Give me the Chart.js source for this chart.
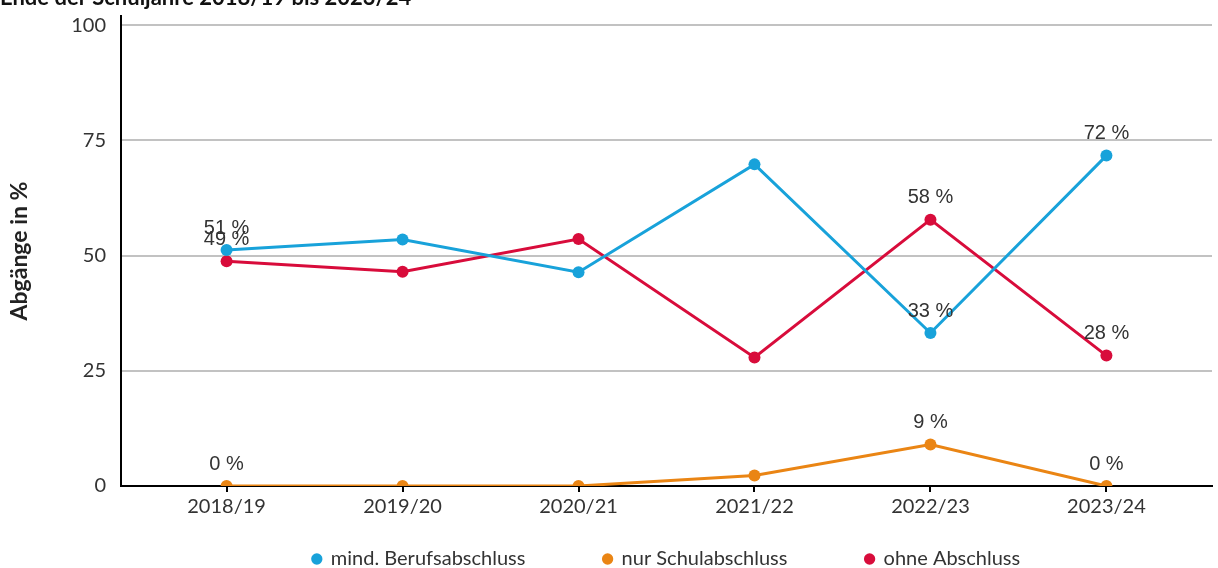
<!DOCTYPE html>
<html lang="de">
<head>
<meta charset="utf-8">
<title>Abgänge nach Abschluss</title>
<script src="https://cdn.jsdelivr.net/npm/chart.js@4.4.1/dist/chart.umd.min.js"></script>
<style>
  html, body { margin: 0; padding: 0; background: #fff; overflow: hidden; }
  /* Titel ist oben abgeschnitten, deshalb wird die Leinwand etwas nach oben verschoben */
  #wrap { position: absolute; left: 0; top: -20px; width: 1218px; height: 599px; }
</style>
</head>
<body>
<div id="wrap"><canvas id="myChart"></canvas></div>
<script>
// Daten
const schuljahre = ['2018/19', '2019/20', '2020/21', '2021/22', '2022/23', '2023/24'];
const mindBerufsabschluss = [51.2, 53.5, 46.4, 69.8, 33.2, 71.7];
const nurSchulabschluss = [0, 0, 0, 2.3, 9.0, 0];
const ohneAbschluss = [48.8, 46.5, 53.6, 27.9, 57.8, 28.3];
const yTicks = [0, 25, 50, 75, 100];
const beschriftetePunkte = [0, 4, 5]; // nur diese Jahre tragen Wertbeschriftungen

const FONT = 'Lato, "Noto Sans", sans-serif';

// Werte -> Punkte auf der linearen x-Achse
function punkte(werte) {
  return werte.map((v, i) => ({ x: i, y: v }));
}

function reihe(label, werte, farbe) {
  return {
    label: label,
    data: punkte(werte),
    borderColor: farbe,
    backgroundColor: farbe,
    borderWidth: 3,
    pointRadius: 6,
    pointBorderWidth: 0,
    pointBackgroundColor: farbe,
    tension: 0
  };
}

// Prozentwerte über den Punkten
const wertBeschriftung = {
  id: 'wertBeschriftung',
  afterDatasetsDraw(chart) {
    const ctx = chart.ctx;
    ctx.save();
    ctx.font = '20px "Liberation Sans", Arial, sans-serif';
    ctx.fillStyle = '#333';
    ctx.textAlign = 'center';
    ctx.textBaseline = 'middle';
    chart.data.datasets.forEach((ds, d) => {
      const meta = chart.getDatasetMeta(d);
      beschriftetePunkte.forEach(i => {
        const pt = meta.data[i];
        ctx.fillText(Math.round(ds.data[i].y) + ' %', pt.x, pt.y - 22);
      });
    });
    ctx.restore();
  }
};

const ctx = document.getElementById('myChart').getContext('2d');
const chart = new Chart(ctx, {
  type: 'line',
  data: {
    datasets: [
      reihe('mind. Berufsabschluss', mindBerufsabschluss, '#18a2da'),
      reihe('nur Schulabschluss', nurSchulabschluss, '#ea8514'),
      reihe('ohne Abschluss', ohneAbschluss, '#d80c3b')
    ]
  },
  options: {
    responsive: true,
    maintainAspectRatio: false,
    animation: false,
    layout: { padding: 0 },
    scales: {
      x: {
        type: 'linear',
        min: -0.6,
        max: 5.6,
        afterBuildTicks: s => { s.ticks = schuljahre.map((_, i) => ({ value: i })); },
        grid: { drawOnChartArea: false, drawTicks: true, tickLength: 6, color: '#000', lineWidth: 2 },
        border: { color: '#000', width: 2 },
        ticks: {
          padding: 3,
          color: '#333',
          font: { family: FONT, size: 20 },
          maxRotation: 0,
          autoSkip: false,
          callback: v => schuljahre[v]
        }
      },
      y: {
        min: 0,
        max: 102,
        afterBuildTicks: s => { s.ticks = yTicks.map(v => ({ value: v })); },
        afterFit: s => { s.width = 121; },
        grid: { color: '#c2c2c2', lineWidth: 2, drawTicks: false },
        border: { color: '#000', width: 2 },
        ticks: { padding: 15, color: '#333', font: { family: FONT, size: 20 } },
        title: {
          display: true,
          text: 'Abgänge in %',
          color: '#222',
          font: { family: FONT, size: 23, weight: 'bold' },
          padding: { top: 6, bottom: 4 }
        }
      }
    },
    plugins: {
      title: {
        display: true,
        text: 'Ende der Schuljahre 2018/19 bis 2023/24',
        align: 'start',
        color: '#111',
        font: { family: FONT, size: 22, weight: 'bold' },
        padding: { top: 4.8, bottom: 4.8 }
      },
      legend: {
        position: 'bottom',
        fullSize: false,
        labels: {
          usePointStyle: true,
          pointStyle: 'circle',
          boxWidth: 8,
          boxHeight: 8,
          padding: 27,
          color: '#333',
          font: { family: FONT, size: 20 },
          generateLabels: function(chart) {
            const items = Chart.defaults.plugins.legend.labels.generateLabels(chart);
            // etwas mehr Abstand zwischen den Einträgen
            items.forEach((it, i) => { if (i < items.length - 1) it.text += '          '; });
            return items;
          }
        }
      },
      tooltip: { enabled: false }
    }
  },
  plugins: [wertBeschriftung]
});
</script>
</body>
</html>
